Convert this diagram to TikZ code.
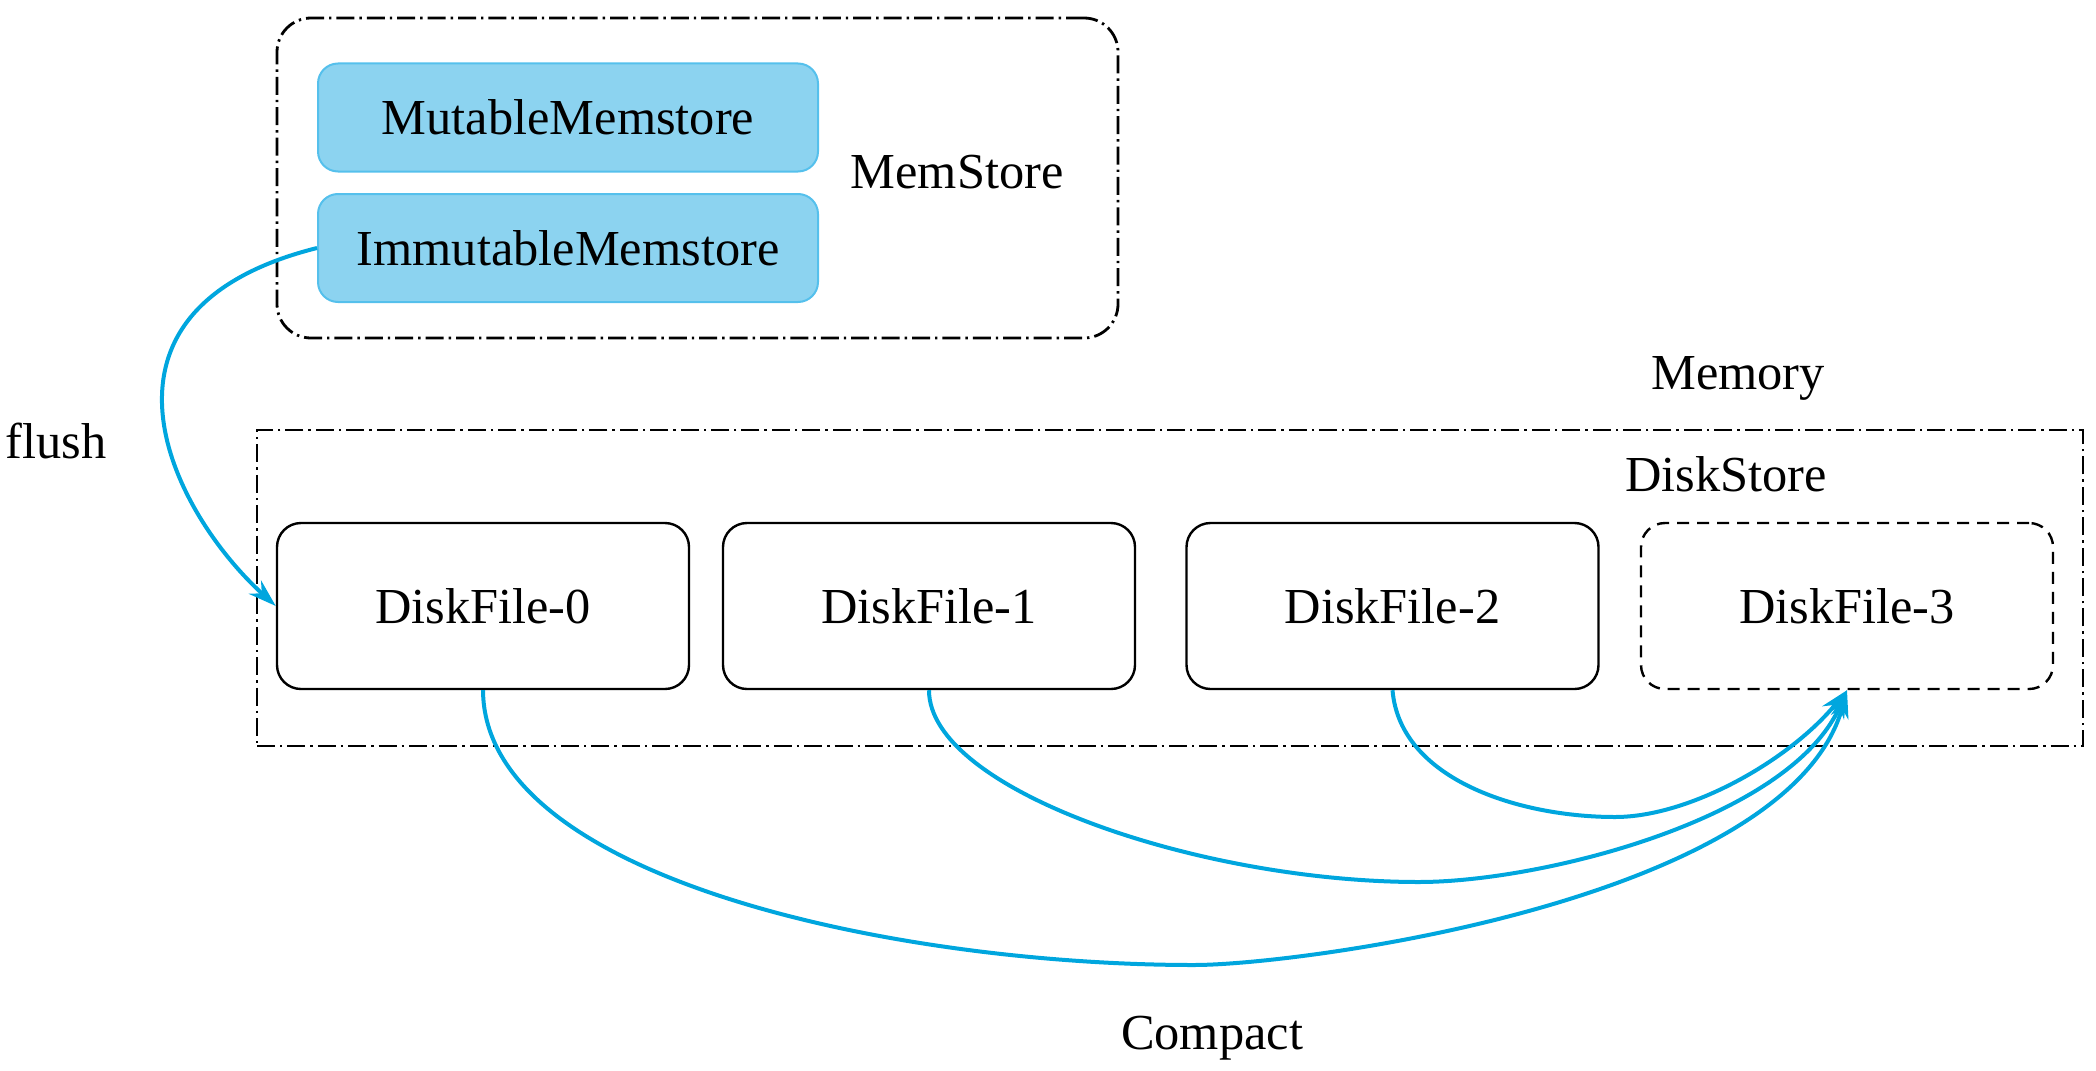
\documentclass[tikz,border=0pt]{standalone}
\usepackage{fontspec}
\setmainfont{Liberation Serif}
\usetikzlibrary{arrows.meta}
\definecolor{memfill}{RGB}{140,211,240}
\definecolor{memdraw}{RGB}{85,192,236}
\definecolor{flowblue}{RGB}{0,166,222}
\begin{document}
\begin{tikzpicture}[x=0.5pt,y=-0.5pt,
  font=\fontsize{25.2}{30}\selectfont,
  group/.style={draw, line width=1.4pt, dash pattern=on 9pt off 2.5pt on 1.2pt off 2.5pt, inner sep=0pt},
  mem/.style={draw=memdraw, fill=memfill, line width=1pt, rounded corners=10pt, minimum width=250pt, minimum height=54pt, inner sep=0pt},
  disk/.style={draw, line width=1.2pt, rounded corners=12pt, minimum width=206pt, minimum height=83pt, inner sep=0pt},
  lbl/.style={anchor=base, inner sep=0pt},
  flow/.style={draw=flowblue, line width=2pt, -{Stealth[length=14pt,width=9pt]}}
]
\useasboundingbox (0,0) rectangle (2096,1070);
% groups
\node[group, rounded corners=17pt, minimum width=420.5pt, minimum height=160pt] (memstore) at (697.5,178) {};
\node[group, minimum width=913pt, minimum height=158pt] (diskstore) at (1170,588) {};
% memstores
\node[mem] (mut) at (568,117.5) {MutableMemstore};
\node[mem] (imm) at (568,248) {ImmutableMemstore};
% disk files
\node[disk] (df0) at (483,606) {DiskFile-0};
\node[disk] (df1) at (929,606) {DiskFile-1};
\node[disk] (df2) at (1392.5,606) {DiskFile-2};
\node[disk, dash pattern=on 6pt off 4pt] (df3) at (1847,606) {DiskFile-3};
% labels
\node[lbl] (lmem) at (957,188) {MemStore};
\node[lbl] (lmemory) at (1738,389) {Memory};
\node[lbl] (ldisk) at (1726,491) {DiskStore};
\node[lbl] (lflush) at (56,458) {flush};
\node[lbl] (lcompact) at (1212,1049) {Compact};
% connectors
\draw[flow] (imm.west) .. controls (70,310) and (170,510) .. (df0.west);
\draw[flow] (df0.south) .. controls (484,880) and (900,965) .. (1194,965) .. controls (1300,965) and (1790,900) .. (df3.south);
\draw[flow] (df1.south) .. controls (929,790) and (1200,882) .. (1419,882) .. controls (1540,882) and (1790,820) .. (df3.south);
\draw[flow] (df2.south) .. controls (1400,780) and (1520,817) .. (1615,817) .. controls (1690,817) and (1790,760) .. (df3.south);
\end{tikzpicture}
\end{document}
